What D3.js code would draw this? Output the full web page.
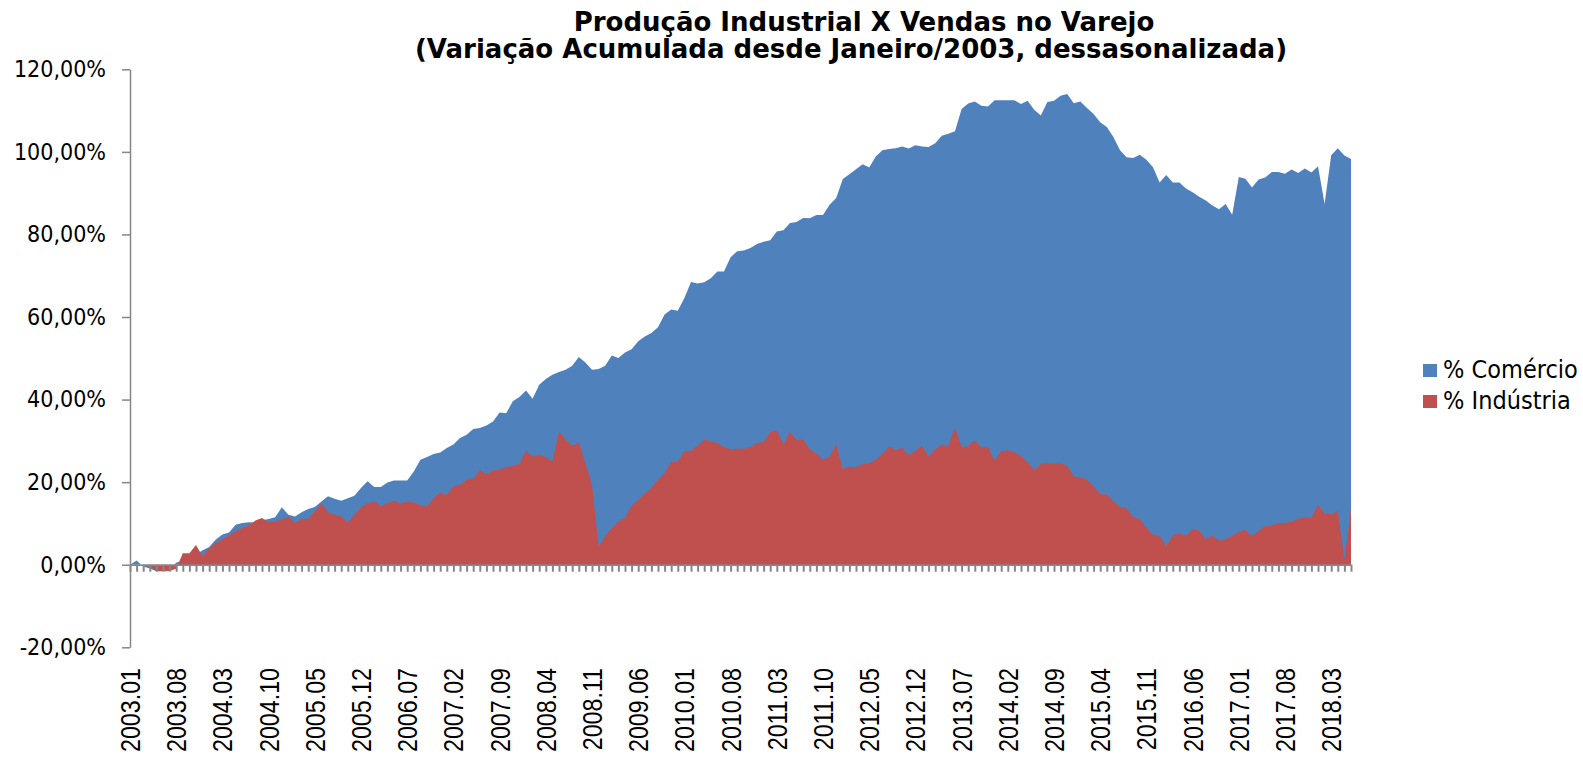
<!DOCTYPE html>
<html>
<head>
<meta charset="utf-8">
<script src="https://cdn.jsdelivr.net/npm/d3@7"></script>
<style>
  html, body { margin: 0; padding: 0; background: #ffffff; }
  svg { display: block; }
</style>
</head>
<body>
<svg id="chart" width="1583" height="760"></svg>
<script>
// ---------------- DATA ----------------
const titleLines = [
  "Produção Industrial X Vendas no Varejo",
  "(Variação Acumulada desde Janeiro/2003, dessasonalizada)"
];

const seriesNames = ["% Comércio", "% Indústria"];

const months = [
  "2003.01","2003.02","2003.03","2003.04","2003.05","2003.06","2003.07","2003.08","2003.09","2003.10","2003.11","2003.12",
  "2004.01","2004.02","2004.03","2004.04","2004.05","2004.06","2004.07","2004.08","2004.09","2004.10","2004.11","2004.12",
  "2005.01","2005.02","2005.03","2005.04","2005.05","2005.06","2005.07","2005.08","2005.09","2005.10","2005.11","2005.12",
  "2006.01","2006.02","2006.03","2006.04","2006.05","2006.06","2006.07","2006.08","2006.09","2006.10","2006.11","2006.12",
  "2007.01","2007.02","2007.03","2007.04","2007.05","2007.06","2007.07","2007.08","2007.09","2007.10","2007.11","2007.12",
  "2008.01","2008.02","2008.03","2008.04","2008.05","2008.06","2008.07","2008.08","2008.09","2008.10","2008.11","2008.12",
  "2009.01","2009.02","2009.03","2009.04","2009.05","2009.06","2009.07","2009.08","2009.09","2009.10","2009.11","2009.12",
  "2010.01","2010.02","2010.03","2010.04","2010.05","2010.06","2010.07","2010.08","2010.09","2010.10","2010.11","2010.12",
  "2011.01","2011.02","2011.03","2011.04","2011.05","2011.06","2011.07","2011.08","2011.09","2011.10","2011.11","2011.12",
  "2012.01","2012.02","2012.03","2012.04","2012.05","2012.06","2012.07","2012.08","2012.09","2012.10","2012.11","2012.12",
  "2013.01","2013.02","2013.03","2013.04","2013.05","2013.06","2013.07","2013.08","2013.09","2013.10","2013.11","2013.12",
  "2014.01","2014.02","2014.03","2014.04","2014.05","2014.06","2014.07","2014.08","2014.09","2014.10","2014.11","2014.12",
  "2015.01","2015.02","2015.03","2015.04","2015.05","2015.06","2015.07","2015.08","2015.09","2015.10","2015.11","2015.12",
  "2016.01","2016.02","2016.03","2016.04","2016.05","2016.06","2016.07","2016.08","2016.09","2016.10","2016.11","2016.12",
  "2017.01","2017.02","2017.03","2017.04","2017.05","2017.06","2017.07","2017.08","2017.09","2017.10","2017.11","2017.12",
  "2018.01","2018.02","2018.03","2018.04","2018.05","2018.06"
];

// % Comércio (vendas no varejo), variação acumulada em %
const comercio = [
  0, 1.0, -0.4, -0.9, -1.6, -1.2, -1.0, 0.5, 1.0, 2.0, 2.5, 3.5,
  4.3, 6.1, 7.3, 7.8, 9.7, 10.1, 10.3, 10.2, 10.8, 11.1, 11.5, 13.9,
  12.1, 11.7, 12.7, 13.5, 14.0, 15.3, 16.6, 16.0, 15.5, 16.1, 16.7, 18.6,
  20.2, 18.8, 18.8, 19.9, 20.4, 20.4, 20.4, 22.6, 25.4, 26.1, 26.8, 27.2,
  28.3, 29.1, 30.7, 31.5, 32.9, 33.1, 33.7, 34.7, 36.9, 36.7, 39.6, 40.6,
  42.2, 40.2, 43.6, 45.0, 46.0, 46.7, 47.2, 48.2, 50.3, 49.0, 47.2, 47.4,
  48.2, 50.7, 50.1, 51.4, 52.2, 54.1, 55.3, 56.1, 57.5, 60.6, 61.8, 61.5,
  64.6, 68.5, 68.1, 68.4, 69.4, 71.0, 71.0, 74.5, 75.9, 76.1, 76.7, 77.7,
  78.2, 78.6, 80.7, 81.0, 82.8, 83.0, 84.0, 83.9, 84.7, 84.7, 87.2, 88.8,
  93.4, 94.6, 95.8, 97.0, 96.2, 98.9, 100.4, 100.7, 100.9, 101.3, 100.8, 101.6,
  101.3, 101.2, 102.1, 103.9, 104.4, 105.0, 110.4, 111.7, 112.2, 111.2, 111.0, 112.5,
  112.5, 112.5, 112.5, 111.6, 112.4, 110.2, 108.8, 112.1, 112.4, 113.6, 114.0, 111.8,
  112.2, 110.6, 109.2, 107.2, 106.0, 103.6, 100.4, 98.7, 98.5, 99.3, 98.1, 96.3,
  92.6, 94.4, 92.6, 92.6, 91.1, 90.2, 89.1, 88.2, 87.0, 86.1, 87.4, 84.8,
  93.9, 93.5, 91.4, 93.3, 93.8, 95.1, 95.1, 94.7, 95.7, 94.9, 96.0, 95.0,
  96.5, 87.4, 99.2, 100.9, 99.1, 98.3
];

// % Indústria (produção industrial), variação acumulada em %
const industria = [
  0, 0, 0, -0.4, -1.6, -1.6, -1.5, -1.0, 2.8, 2.8, 4.8, 2.0,
  4.0, 5.2, 6.2, 7.1, 8.1, 8.9, 9.5, 10.7, 11.3, 10.3, 10.5, 10.9,
  11.7, 10.1, 11.1, 11.1, 12.9, 14.9, 12.7, 12.1, 11.7, 10.1, 12.1, 13.9,
  14.9, 15.3, 14.2, 14.9, 15.5, 14.8, 15.3, 15.1, 14.4, 14.1, 16.1, 17.5,
  16.9, 19.0, 19.4, 20.6, 20.8, 22.8, 21.9, 22.8, 23.0, 23.6, 24.0, 24.4,
  27.6, 26.2, 26.6, 26.1, 25.0, 32.3, 30.3, 28.8, 29.6, 24.6, 19.4, 4.4,
  6.9, 8.9, 10.5, 11.3, 14.3, 15.7, 17.2, 18.6, 20.6, 22.2, 24.8, 25.0,
  27.5, 27.6, 28.8, 30.3, 29.9, 29.5, 28.5, 28.0, 28.1, 28.1, 28.4, 29.5,
  29.7, 32.1, 32.5, 29.1, 32.3, 30.1, 30.4, 27.9, 26.9, 25.4, 26.1, 29.2,
  23.2, 23.8, 23.6, 24.4, 24.6, 25.4, 26.8, 28.5, 27.9, 28.3, 26.5, 27.6,
  28.8, 26.2, 27.9, 29.1, 28.8, 33.1, 28.5, 28.7, 30.1, 28.4, 28.5, 25.2,
  27.5, 27.7, 27.2, 26.4, 24.9, 22.8, 24.4, 24.6, 24.5, 24.6, 24.0, 21.4,
  21.2, 20.6, 19.0, 17.1, 17.0, 15.3, 14.0, 13.7, 11.5, 11.1, 8.9, 7.2,
  7.0, 4.4, 7.0, 7.6, 7.1, 8.6, 8.3, 6.1, 7.1, 5.8, 6.2, 7.0,
  7.9, 8.5, 6.9, 8.2, 9.3, 9.5, 10.1, 10.1, 10.5, 11.1, 11.5, 11.3,
  14.5, 12.4, 12.2, 13.0, 1.1, 13.7
];

const yTicks = [-20, 0, 20, 40, 60, 80, 100, 120];

const xTickLabels = [
  "2003.01","2003.08","2004.03","2004.10","2005.05","2005.12","2006.07","2007.02","2007.09",
  "2008.04","2008.11","2009.06","2010.01","2010.08","2011.03","2011.10","2012.05","2012.12",
  "2013.07","2014.02","2014.09","2015.04","2015.11","2016.06","2017.01","2017.08","2018.03"
];

const colors = ["#4F81BD", "#C0504D"];

// ---------------- CHART ----------------
const svg = d3.select("#chart");
const axisColor = "#868686";
const fontMain = "'DejaVu Sans Condensed', 'DejaVu Sans', sans-serif";
const fontTitle = "'DejaVu Sans', sans-serif";
const fontX = "'Liberation Sans', Arial, sans-serif";

const plot = { left: 130, right: 1351, top: 69.3, bottom: 647.3 };

const x = d3.scalePoint().domain(months).range([plot.left, plot.right]);
const y = d3.scaleLinear().domain([-20, 120]).range([plot.bottom, plot.top]);

const ptBR = d3.formatLocale({ decimal: ",", thousands: ".", grouping: [3], currency: ["R$ ", ""], minus: "-" });
const fmt = v => ptBR.format(".2f")(v) + "%";

// Areas (Comércio behind, Indústria in front)
const area = d3.area()
  .x((d, i) => x(months[i]))
  .y0(y(0))
  .y1(d => y(d));

svg.append("path").datum(comercio).attr("d", area).attr("fill", colors[0]);
svg.append("path").datum(industria).attr("d", area).attr("fill", colors[1]);

// Y axis
const yAxis = svg.append("g")
  .attr("transform", `translate(${plot.left},0)`)
  .call(d3.axisLeft(y).tickValues(yTicks).tickFormat(fmt).tickSize(8).tickSizeOuter(0).tickPadding(16));
yAxis.select(".domain").attr("stroke", axisColor).attr("stroke-width", 1.5);
yAxis.selectAll(".tick line").attr("stroke", axisColor).attr("stroke-width", 1.5);
yAxis.selectAll(".tick text")
  .attr("fill", "#000")
  .style("font-family", fontMain)
  .style("font-size", "23px");

// X axis at zero
const xAxis = svg.append("g")
  .attr("transform", `translate(0,${y(0)})`)
  .call(d3.axisBottom(x).tickSize(7).tickSizeOuter(0).tickFormat(""));
xAxis.select(".domain").attr("stroke", axisColor).attr("stroke-width", 1.5);
xAxis.selectAll(".tick line").attr("stroke", axisColor).attr("stroke-width", 2);

// X labels (rotated, narrow)
svg.append("g").selectAll("text")
  .data(xTickLabels)
  .join("text")
  .attr("transform", d => `translate(${x(d)},668) rotate(-90) scale(0.83,1)`)
  .attr("text-anchor", "end")
  .attr("dy", "0.36em")
  .style("font-family", fontX)
  .style("font-size", "28px")
  .attr("fill", "#000")
  .text(d => d);

// Title
const titleX = [864, 851];
const titleY = [30.7, 57.7];
svg.append("g").selectAll("text")
  .data(titleLines)
  .join("text")
  .attr("x", (d, i) => titleX[i])
  .attr("y", (d, i) => titleY[i])
  .attr("text-anchor", "middle")
  .style("font-family", fontTitle)
  .style("font-weight", "bold")
  .style("font-size", "26px")
  .attr("fill", "#000")
  .text(d => d);

// Legend
const legend = svg.append("g").attr("transform", "translate(1423,364)");
const items = legend.selectAll("g").data(seriesNames).join("g")
  .attr("transform", (d, i) => `translate(0,${i * 31})`);
items.append("rect").attr("width", 14).attr("height", 13).attr("fill", (d, i) => colors[i]);
items.append("text")
  .attr("x", 20).attr("y", 14)
  .style("font-family", fontMain)
  .style("font-size", "25px")
  .attr("fill", "#000")
  .text(d => d);
</script>
</body>
</html>
